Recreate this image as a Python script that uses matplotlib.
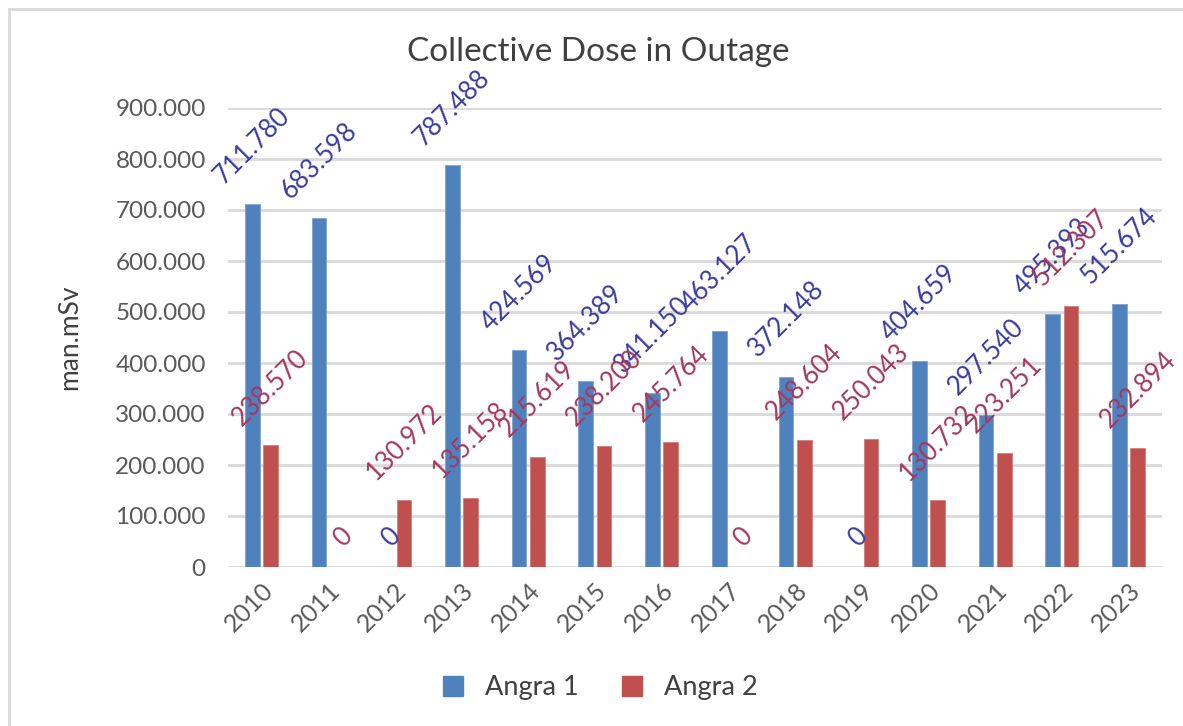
import matplotlib
matplotlib.use("Agg")
import matplotlib.pyplot as plt
import matplotlib.patches as mpatches
import numpy as np

years = ["2010", "2011", "2012", "2013", "2014", "2015", "2016",
         "2017", "2018", "2019", "2020", "2021", "2022", "2023"]
angra1 = [711.780, 683.598, 0, 787.488, 424.569, 364.389, 341.150,
          463.127, 372.148, 0, 404.659, 297.540, 495.393, 515.674]
angra2 = [238.570, 0, 130.972, 135.158, 215.619, 238.200, 245.764,
          0, 248.604, 250.043, 130.732, 223.251, 512.307, 232.894]
yticks = [0, 100, 200, 300, 400, 500, 600, 700, 800, 900]

plt.rcParams['font.family'] = ['Lato', 'DejaVu Sans']

c1, c2 = '#4F81BD', '#C0504D'
l1, l2 = '#3B3B9E', '#A3375F'
txt = '#595959'

fig = plt.figure(figsize=(11.83, 7.26), dpi=100)
ax = fig.add_axes([228/1183, 1-567/726, (1162-228)/1183, (567-108)/726])

x = np.arange(len(years))
w = 0.22
off = 0.137
ax.bar(x - off, angra1, w, color=c1, edgecolor='#7FA3D0', linewidth=0.6, label='Angra 1', zorder=3)
ax.bar(x + off, angra2, w, color=c2, edgecolor='#D27F7D', linewidth=0.6, label='Angra 2', zorder=3)

def fmt(v):
    return "0" if v == 0 else f"{v:.3f}"

for xs, vals, col in ((x - off, angra1, l1), (x + off, angra2, l2)):
    for xi, v in zip(xs, vals):
        ax.annotate(fmt(v), (xi, v), xytext=(4 if v == 0 else 0, 11), textcoords='offset points',
                    ha='center', va='bottom', rotation=45, color=col, fontsize=18.5, zorder=4)

ax.set_xlim(-0.5, len(years) - 0.5)
ax.set_ylim(0, 900)
ax.set_yticks(yticks)
ax.set_yticklabels([fmt(t) for t in yticks], color=txt, fontsize=17.5)
ax.set_xticks(x)
ax.set_xticklabels(years, rotation=45, ha='right', rotation_mode='anchor', color=txt, fontsize=18)
ax.tick_params(axis='y', length=0, pad=16)
ax.tick_params(axis='x', length=0, pad=8)
for s in ax.spines.values():
    s.set_visible(False)
ax.grid(axis='y', color='#D9D9D9', linewidth=2, zorder=0)
ax.set_axisbelow(True)

ax.set_ylabel('man.mSv', color='#404040', fontsize=19, labelpad=24)
fig.text(598/1183, 1-52/726, 'Collective Dose in Outage', ha='center', va='center',
         fontsize=24, color='#404040')

handles = [mpatches.Patch(color=c1, label='Angra 1'), mpatches.Patch(color=c2, label='Angra 2')]
fig.legend(handles=handles, loc='center', bbox_to_anchor=(600/1183, 1-688/726), ncol=2,
           frameon=False, fontsize=19.5, handlelength=0.75, handleheight=0.75,
           columnspacing=1.6, handletextpad=0.8, labelcolor='#404040')

border = mpatches.Rectangle((9/1183, -0.2), 1.5, 1.2 - 9/726, transform=fig.transFigure,
                            fill=False, edgecolor='#D9D9D9', linewidth=2)
fig.patches.append(border)

fig.savefig('out.png', dpi=100)
